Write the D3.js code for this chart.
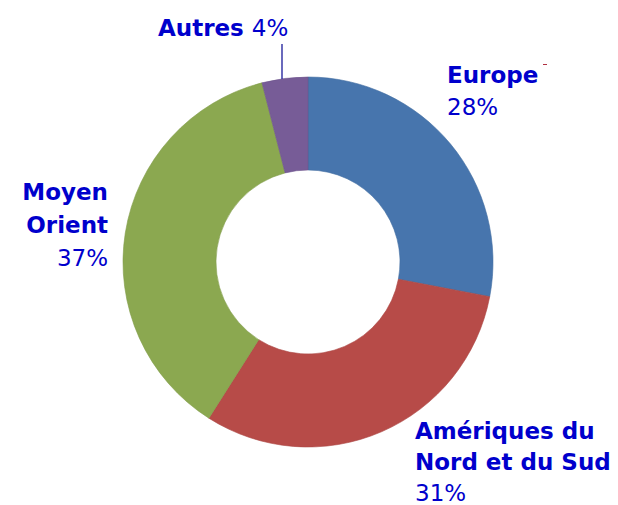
<!DOCTYPE html>
<html>
<head>
<meta charset="utf-8">
<script src="https://cdn.jsdelivr.net/npm/d3@7"></script>
<style>
  body { margin: 0; background: #fff; }
  text { font-family: "DejaVu Sans", Verdana, sans-serif; fill: #0000cc; }
</style>
</head>
<body>
<div id="chart"></div>
<script>
// data
const regions = ["Europe", "Amériques du Nord et du Sud", "Moyen Orient", "Autres"];
const shares = [28, 31, 37, 4];
const colors = ["#4f82c0", "#cc5450", "#9bbb59", "#8466a8"];

const width = 618, height = 505;
const cx = 308, cy = 262, outerR = 185, innerR = 92;

const svg = d3.select("#chart")
  .append("svg")
  .attr("width", width)
  .attr("height", height);

// soft bevel: darker at the hole and the rim
const defs = svg.append("defs");
colors.forEach(function(c, i) {
  const grad = defs.append("radialGradient")
    .attr("id", "grad" + i)
    .attr("gradientUnits", "userSpaceOnUse")
    .attr("cx", cx).attr("cy", cy).attr("r", outerR);
  const base = d3.color(c);
  grad.append("stop").attr("offset", "0.49").attr("stop-color", base.darker(0.25));
  grad.append("stop").attr("offset", "0.55").attr("stop-color", base.brighter(0.1));
  grad.append("stop").attr("offset", "0.88").attr("stop-color", base);
  grad.append("stop").attr("offset", "0.97").attr("stop-color", base.darker(0.1));
  grad.append("stop").attr("offset", "1").attr("stop-color", base.darker(0.3));
});

const pie = d3.pie().sort(null).value(function(d) { return d; });
const arc = d3.arc().innerRadius(innerR).outerRadius(outerR);

const g = svg.append("g").attr("transform", `translate(${cx},${cy})`);

g.selectAll("path")
  .data(pie(shares))
  .join("path")
    .attr("d", arc)
    .attr("fill", function(d, i) { return `url(#grad${i})`; })
    .attr("stroke", function(d, i) { return d3.color(colors[i]).darker(0.5); })
    .attr("stroke-width", 0.6);

// labels
const fs = 23;
function label(x, y, anchor, lines, step) {
  const t = svg.append("text")
    .attr("x", x).attr("y", y)
    .attr("text-anchor", anchor)
    .style("font-size", fs + "px");
  lines.forEach(function(l, k) {
    const ts = t.append("tspan").attr("x", x).attr("dy", k === 0 ? 0 : step);
    l.forEach(function(p) {
      ts.append("tspan").attr("font-weight", p[1] ? "bold" : "normal").text(p[0]);
    });
  });
  return t;
}

// Europe
label(447, 83, "start", [[[regions[0], true]], [[shares[0] + "%", false]]], 32);
svg.append("line")
  .attr("x1", 543).attr("x2", 547).attr("y1", 64.5).attr("y2", 64.5)
  .attr("stroke", "#b03040").attr("stroke-width", 1);

// Amériques
label(415, 439, "start", [[["Amériques du", true]], [["Nord et du Sud", true]], [[shares[1] + "%", false]]], 31);

// Moyen Orient
label(108, 200, "end", [[["Moyen", true]], [["Orient", true]], [[shares[2] + "%", false]]], 33);

// Autres
label(158, 36, "start", [[[regions[3] + " ", true], [shares[3] + "%", false]]], 32);

// leader line for Autres
svg.append("line")
  .attr("x1", 282).attr("x2", 282)
  .attr("y1", 44)
  .attr("y2", cy - outerR + 2)
  .attr("stroke", "#1a1a99")
  .attr("stroke-width", 1.3);
</script>
</body>
</html>
